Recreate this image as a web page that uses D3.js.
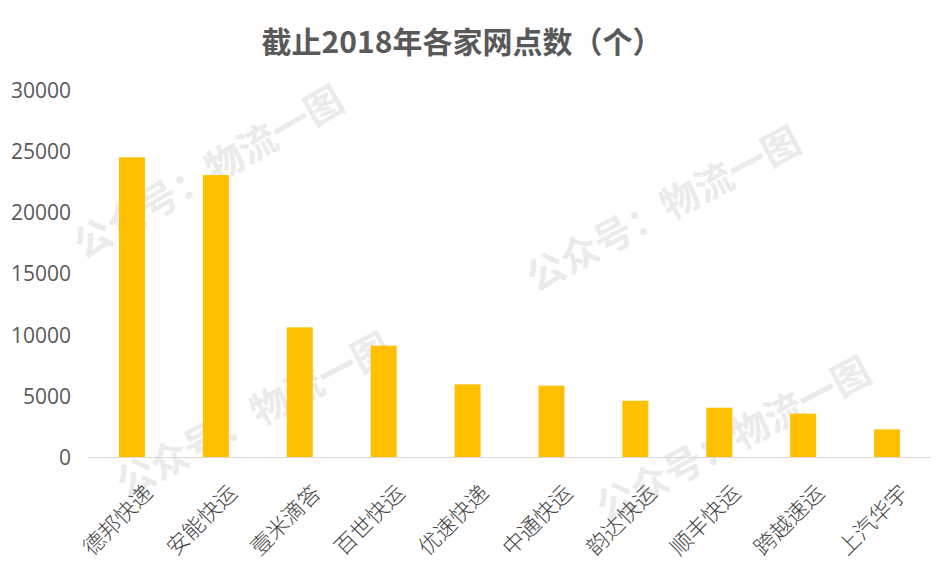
<!DOCTYPE html>
<html><head><meta charset="utf-8">
<script src="https://cdn.jsdelivr.net/npm/d3@7/dist/d3.min.js"></script>
<style>body{margin:0;background:#fff}svg{display:block}</style>
</head><body><svg id="c" width="944" height="569"></svg>
<script>
const categories = ["德邦快递","安能快运","壹米滴答","百世快运","优速快递","中通快运","韵达快运","顺丰快运","跨越速运","上汽华宇"];
const values = [24500, 23050, 10600, 9100, 5940, 5830, 4600, 4030, 3540, 2260];
const yTicks = [0, 5000, 10000, 15000, 20000, 25000, 30000];
const title = "截止2018年各家网点数（个）";
const watermark = "公众号：物流一图";

const svg = d3.select("#c");
const font = "'Noto Sans CJK SC','Noto Sans',sans-serif";
const x = d3.scaleBand().domain(categories).range([90, 929]).paddingInner(0.69).paddingOuter(0.345);
const y = d3.scaleLinear().domain([0, 30000]).range([457, 90]);

// watermarks
[[210,175,-30],[665,212,-28],[255,418,-28],[735,442,-28]].forEach(([cx,cy,a])=>{
  svg.append("text").attr("transform",`translate(${cx},${cy}) rotate(${a})`)
    .attr("text-anchor","middle").attr("dominant-baseline","middle")
    .attr("font-family",font).attr("font-size",38).attr("font-weight","bold")
    .attr("fill","#ebebeb").text(watermark);
});

svg.append("text").attr("x",462).attr("y",53).attr("text-anchor","middle")
  .attr("font-family",font).attr("font-size",30).attr("font-weight","bold")
  .attr("fill","#595959").text(title);

const ya = svg.append("g").attr("transform","translate(71,0)")
  .call(d3.axisLeft(y).tickValues(yTicks).tickSize(0).tickPadding(0).tickFormat(d3.format("d")));
ya.select(".domain").remove();
ya.selectAll("text").attr("font-family","'Open Sans',sans-serif").attr("font-size",21).attr("fill","#595959").attr("dy","0.35em");

svg.selectAll("rect.bar").data(values).join("rect").attr("class","bar")
  .attr("x",(d,i)=>x(categories[i])).attr("width",x.bandwidth())
  .attr("y",d=>y(d)).attr("height",d=>y(0)-y(d)).attr("fill","#FFC000");

svg.append("line").attr("x1",88).attr("x2",931).attr("y1",y(0)+0.5).attr("y2",y(0)+0.5)
  .attr("stroke","#d9d9d9").attr("stroke-width",1);

const xa = svg.append("g").attr("transform",`translate(0,${y(0)})`)
  .call(d3.axisBottom(x).tickSize(0).tickPadding(0));
xa.select(".domain").remove();
xa.selectAll("text").attr("font-family",font).attr("font-size",22).attr("font-weight",300).attr("fill","#454545")
  .attr("text-anchor","end").attr("dy","0.35em")
  .attr("transform","translate(17,32) rotate(-45)");
</script></body></html>
